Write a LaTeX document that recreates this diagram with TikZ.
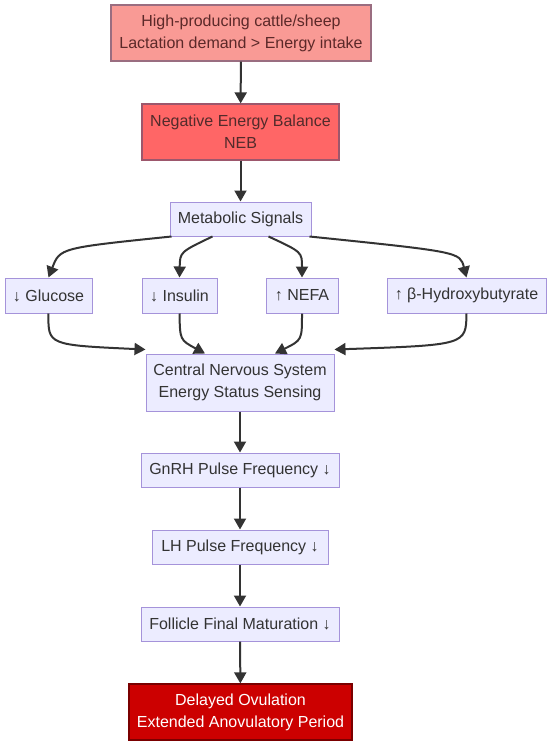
\documentclass[tikz,border=0pt]{standalone}
\usepackage{fontspec}
\setmainfont{Liberation Sans}
\usepackage{tikz}
\usetikzlibrary{arrows.meta, positioning}
\definecolor{boxfill}{HTML}{ECECFF}
\definecolor{boxline}{HTML}{A593DA}
\definecolor{inkgray}{HTML}{333333}
\definecolor{salmon}{HTML}{F99A95}
\definecolor{nebred}{HTML}{FF6666}
\definecolor{deepred}{HTML}{CC0000}

\begin{document}
\begin{tikzpicture}[x=1pt, y=-1pt,
    every node/.style={font=\fontsize{16}{22}\selectfont, align=center, inner sep=0pt},
    sig/.style={draw=boxline, fill=boxfill, text=inkgray, line width=1pt, minimum height=34pt},
    hot/.style={draw=#1!60!black!70!boxline, line width=1.2pt, minimum height=56pt},
    arr/.style={draw=inkgray, line width=2pt, -{Triangle[length=11pt, width=12pt]}}]
      \useasboundingbox[fill=white] (0,0) rectangle (550,749);
      \node (top) [hot=salmon, fill=salmon, text=inkgray!80!red, minimum width=260pt] at (241,33)
        {High-producing cattle/sheep\\Lactation demand > Energy intake};
      \node (neb) [hot=nebred, fill=nebred, text=inkgray!85!red, minimum width=197pt] at (240.5,132)
        {Negative Energy Balance\\NEB};
      \node (ms) [sig, minimum width=141pt] at (240.5,219) {Metabolic Signals};
      \node (glu) [sig, minimum width=87pt, minimum height=35pt] at (48.5,295.5) {↓ Glucose};
      \node (ins) [sig, minimum width=75pt, minimum height=35pt] at (179.5,295.5) {↓ Insulin};
      \node (nefa) [sig, minimum width=72pt, minimum height=35pt] at (302,295.5) {↑ NEFA};
      \node (bhb) [sig, minimum width=159pt, minimum height=35pt] at (466.5,295.5) {↑ β-Hydroxybutyrate};
      \node (cns) [sig, minimum width=188pt, minimum height=57pt] at (240,382.5)
        {Central Nervous System\\Energy Status Sensing};
      \node (gnrh) [sig, minimum width=198pt] at (240,470) {GnRH Pulse Frequency ↓};
      \node (lh) [sig, minimum width=176pt] at (240,547) {LH Pulse Frequency ↓};
      \node (fol) [sig, minimum width=198pt] at (240,624) {Follicle Final Maturation ↓};
      \node (del) [hot=deepred, draw=deepred!60!black, fill=deepred, text=white, minimum width=223pt] at (240.5,712)
        {Delayed Ovulation\\Extended Anovulatory Period};

      \draw[arr] (top) -- (neb);
      \draw[arr] (neb) -- (ms);
      \draw[arr] ([xshift=2pt]ms.south west) .. controls (60,248) .. (glu.north);
      \draw[arr] ([xshift=-28pt]ms.south) .. controls (180,252) .. (ins.north);
      \draw[arr] ([xshift=28pt]ms.south) .. controls (302,252) .. (nefa.north);
      \draw[arr] ([xshift=-2pt]ms.south east) .. controls (460,252) .. (bhb.north);
      \draw[arr] (glu.south) .. controls (48,345) .. ([yshift=4pt]cns.north west);
      \draw[arr] (ins.south) .. controls (180,340) .. ([xshift=-35pt]cns.north);
      \draw[arr] (nefa.south) .. controls (302,340) .. ([xshift=35pt]cns.north);
      \draw[arr] (bhb.south) .. controls (466,345) .. ([yshift=4pt]cns.north east);
      \draw[arr] (cns) -- (gnrh);
      \draw[arr] (gnrh) -- (lh);
      \draw[arr] (lh) -- (fol);
      \draw[arr] (fol) -- (del);
\end{tikzpicture}
\end{document}
